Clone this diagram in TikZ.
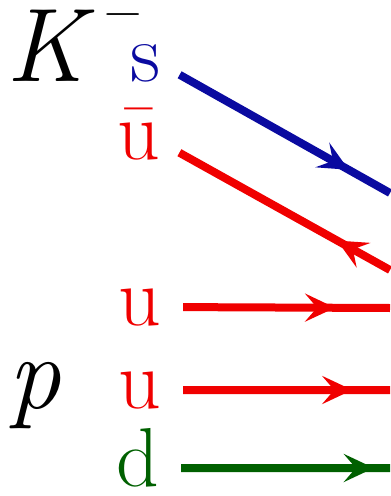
\documentclass[tikz,border=0pt]{standalone}
\usetikzlibrary{arrows.meta,decorations.markings}
\definecolor{qblue}{HTML}{0A0AA0}
\definecolor{qred}{HTML}{F00000}
\definecolor{qgreen}{HTML}{006000}
\tikzset{
  qlbl/.style   ={anchor=base west, inner sep=0pt, text height=36bp, text depth=0pt,
                  font=\fontsize{84}{100}\selectfont},
  hadlbl/.style ={anchor=base west, inner sep=0pt, font=\fontsize{105}{126}\selectfont\itshape},
  qline/.style  ={line width=8bp, shorten <=22bp},
  arrowat/.style={postaction={decorate, decoration={markings,
                  mark=at position #1 with {\arrow{Stealth[length=30bp,width=28bp,inset=12bp]}}}}},
  backat/.style ={postaction={decorate, decoration={markings,
                  mark=at position #1 with {\arrowreversed{Stealth[length=30bp,width=28bp,inset=12bp]}}}}},
}
\begin{document}
\begin{tikzpicture}[x=1bp, y=-1bp]
  \useasboundingbox (0,0) rectangle (390,496);
  % hadrons
  \node[hadlbl] (K) at (6,82) {K\hspace{20bp}\smash{\raisebox{54bp}{\upshape\fontsize{52}{56}\selectfont −}}};
  \node[hadlbl] (p) at (8,408) {p};
  % quarks
  \node[qlbl, text=qblue] (s) at (130,82) {s};
  \node[qlbl, text=qred] (ubar) at (117,160) {ū};
  \node[qlbl, text=qred] (uA) at (118,325) {u};
  \node[qlbl, text=qred] (uB) at (118,408) {u};
  \node[qlbl, text=qgreen] (d) at (116,486) {d};
  % free ends at the right edge
  \coordinate (sR) at (390,193);
  \coordinate (ubarR) at (390,270);
  \coordinate (uAR) at (390,308);
  \coordinate (uBR) at (390,390);
  \coordinate (dR) at (390,468);
  \draw[qline, qblue, arrowat=0.82] (s.east) -- (sR);
  \draw[qline, qred, backat=0.77] (ubar.east) -- (ubarR);
  \draw[qline, qred, arrowat=0.76] (uA.east) -- (uAR);
  \draw[qline, qred, arrowat=0.835] (uB.east) -- (uBR);
  \draw[qline, qgreen, arrowat=0.93] (d.east) -- (dR);
\end{tikzpicture}
\end{document}
